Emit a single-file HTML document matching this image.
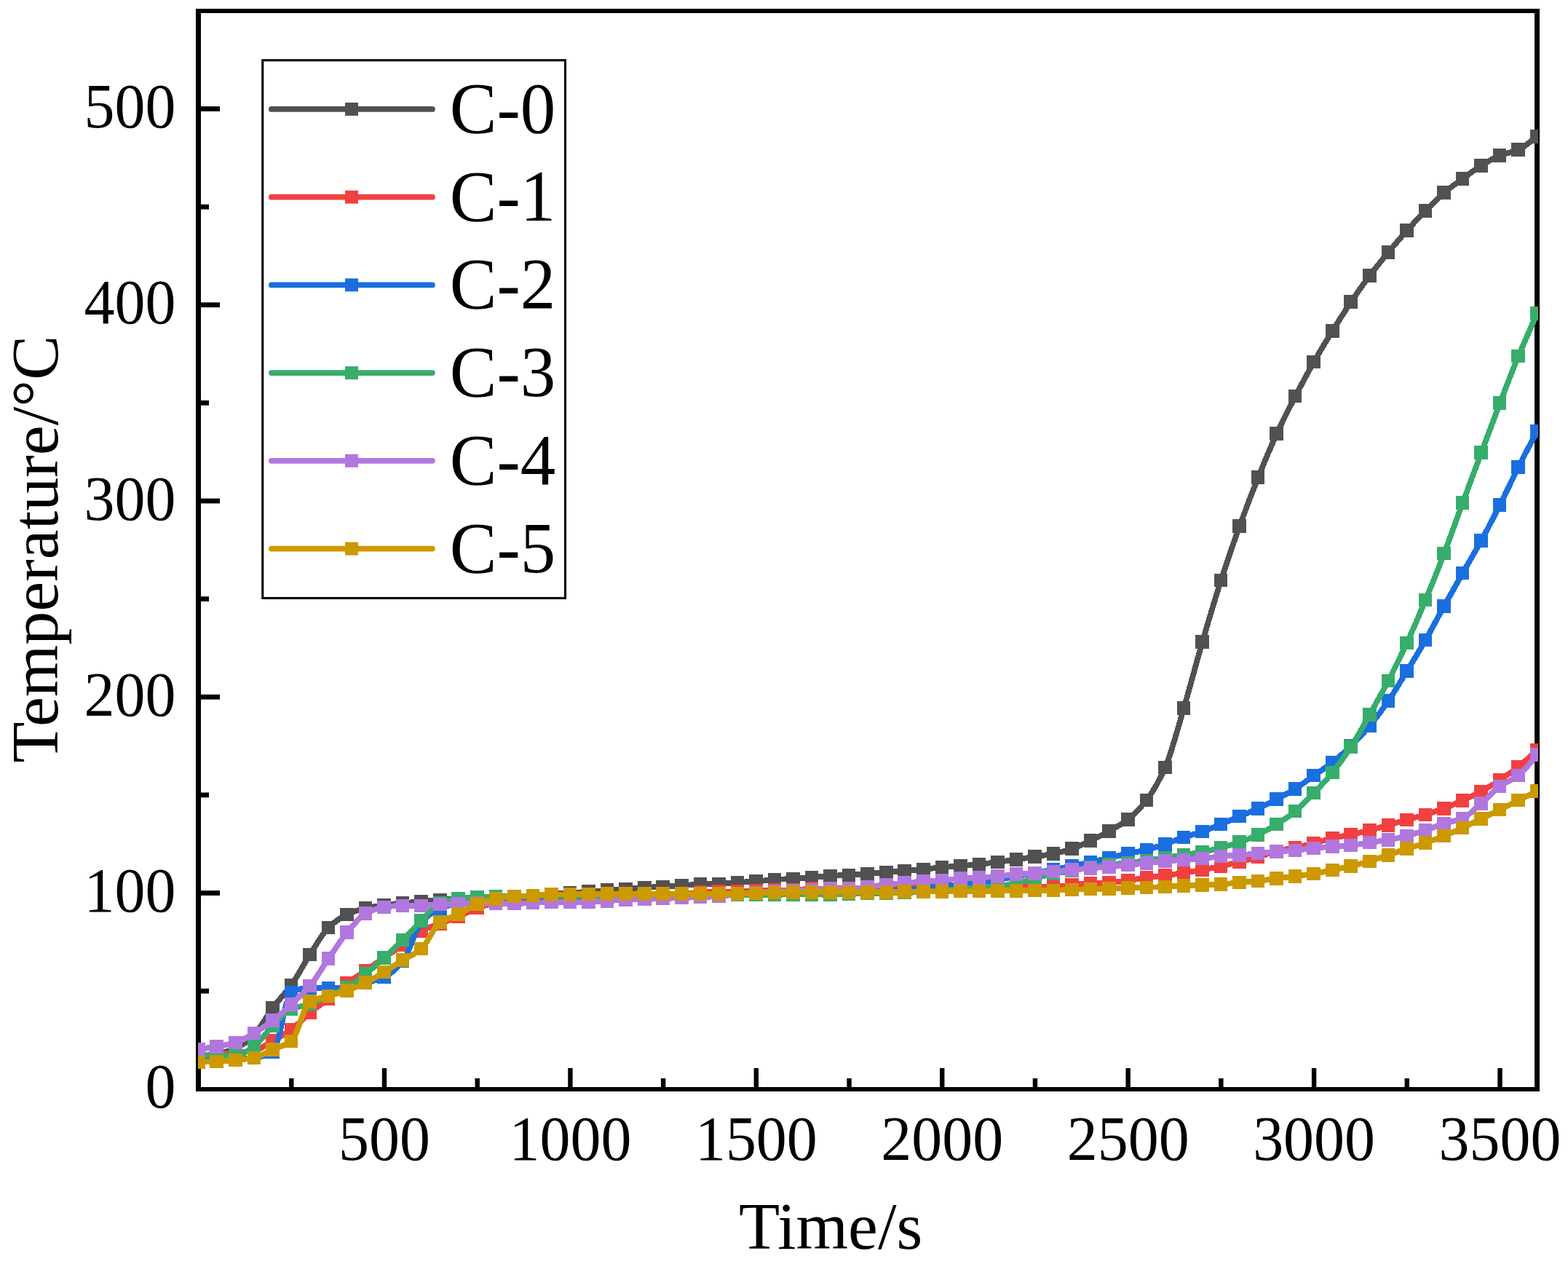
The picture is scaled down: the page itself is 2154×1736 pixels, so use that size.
<!DOCTYPE html><html><head><meta charset="utf-8"><title>Temperature vs Time</title><style>html,body{margin:0;padding:0;background:#fff;}svg{display:block;}text{font-family:'Liberation Serif','Times New Roman',serif;fill:#000;}</style></head><body>
<svg width="2154" height="1736" viewBox="0 0 2154 1736">
<rect x="0" y="0" width="2154" height="1736" fill="#fff"/>
<g fill="#000">
<rect x="269" y="12" width="7" height="1487"/>
<rect x="269" y="12" width="1846" height="6"/>
<rect x="2108" y="12" width="7" height="1487"/>
<rect x="269" y="1493" width="1846" height="6"/>
<rect x="276" y="1357.72" width="11" height="6.8"/>
<rect x="276" y="1223.10" width="26" height="6.8"/>
<rect x="276" y="1088.47" width="11" height="6.8"/>
<rect x="276" y="953.85" width="26" height="6.8"/>
<rect x="276" y="819.23" width="11" height="6.8"/>
<rect x="276" y="684.60" width="26" height="6.8"/>
<rect x="276" y="549.98" width="11" height="6.8"/>
<rect x="276" y="415.35" width="26" height="6.8"/>
<rect x="276" y="280.73" width="11" height="6.8"/>
<rect x="276" y="146.10" width="26" height="6.8"/>
<rect x="397.11" y="1481" width="6.4" height="12"/>
<rect x="524.81" y="1467" width="6.4" height="26"/>
<rect x="652.52" y="1481" width="6.4" height="12"/>
<rect x="780.23" y="1467" width="6.4" height="26"/>
<rect x="907.94" y="1481" width="6.4" height="12"/>
<rect x="1035.64" y="1467" width="6.4" height="26"/>
<rect x="1163.35" y="1481" width="6.4" height="12"/>
<rect x="1291.06" y="1467" width="6.4" height="26"/>
<rect x="1418.77" y="1481" width="6.4" height="12"/>
<rect x="1546.48" y="1467" width="6.4" height="26"/>
<rect x="1674.18" y="1481" width="6.4" height="12"/>
<rect x="1801.89" y="1467" width="6.4" height="26"/>
<rect x="1929.60" y="1481" width="6.4" height="12"/>
<rect x="2057.31" y="1467" width="6.4" height="26"/>
</g>
<text transform="translate(241.5,1521.35) scale(0.965,1)" font-size="87" text-anchor="end">0</text>
<text transform="translate(241.5,1252.10) scale(0.965,1)" font-size="87" text-anchor="end">100</text>
<text transform="translate(241.5,982.85) scale(0.965,1)" font-size="87" text-anchor="end">200</text>
<text transform="translate(241.5,713.60) scale(0.965,1)" font-size="87" text-anchor="end">300</text>
<text transform="translate(241.5,444.35) scale(0.965,1)" font-size="87" text-anchor="end">400</text>
<text transform="translate(241.5,175.10) scale(0.965,1)" font-size="87" text-anchor="end">500</text>
<text transform="translate(528.01,1593) scale(0.965,1)" font-size="87" text-anchor="middle">500</text>
<text transform="translate(783.43,1593) scale(0.965,1)" font-size="87" text-anchor="middle">1000</text>
<text transform="translate(1038.85,1593) scale(0.965,1)" font-size="87" text-anchor="middle">1500</text>
<text transform="translate(1294.26,1593) scale(0.965,1)" font-size="87" text-anchor="middle">2000</text>
<text transform="translate(1549.68,1593) scale(0.965,1)" font-size="87" text-anchor="middle">2500</text>
<text transform="translate(1805.09,1593) scale(0.965,1)" font-size="87" text-anchor="middle">3000</text>
<text transform="translate(2060.51,1593) scale(0.965,1)" font-size="87" text-anchor="middle">3500</text>
<text x="1015" y="1714.7" font-size="92">Time/s</text>
<text transform="translate(79.3,1047.8) rotate(-90)" font-size="92">Temperature/°C</text>
<defs><clipPath id="pc"><rect x="272" y="15" width="1841" height="1481"/></clipPath></defs>
<g clip-path="url(#pc)" shape-rendering="crispEdges">
<path d="M272.6,1450.0 C281.1,1449.0 289.6,1448.4 298.1,1447.0 C306.7,1445.6 315.2,1443.4 323.7,1440.0 C332.2,1436.6 340.7,1429.4 349.2,1421.0 C357.7,1412.6 366.3,1395.2 374.8,1383.9 C383.3,1372.6 391.8,1364.7 400.3,1352.8 C408.8,1340.9 417.3,1324.1 425.8,1311.0 C434.4,1297.9 442.9,1281.9 451.4,1273.8 C459.9,1265.7 468.4,1259.8 476.9,1255.9 C485.4,1252.0 494.0,1249.1 502.5,1247.2 C511.0,1245.3 519.5,1244.2 528.0,1243.1 C536.5,1242.0 545.0,1241.1 553.6,1240.3 C562.1,1239.5 570.6,1238.9 579.1,1238.2 C587.6,1237.5 596.1,1236.6 604.6,1236.0 C613.2,1235.4 621.7,1234.9 630.2,1234.5 C638.7,1234.1 647.2,1233.8 655.7,1233.5 C664.2,1233.2 672.8,1232.8 681.3,1232.5 C689.8,1232.2 698.3,1231.9 706.8,1231.5 C715.3,1231.1 723.8,1230.6 732.3,1230.0 C740.9,1229.4 749.4,1228.3 757.9,1227.8 C766.4,1227.3 774.9,1227.0 783.4,1226.5 C791.9,1226.0 800.5,1225.2 809.0,1224.6 C817.5,1224.0 826.0,1223.3 834.5,1222.7 C843.0,1222.1 851.5,1221.5 860.1,1220.9 C868.6,1220.3 877.1,1219.2 885.6,1218.8 C894.1,1218.4 902.6,1218.3 911.1,1217.9 C919.7,1217.5 928.2,1216.5 936.7,1216.0 C945.2,1215.5 953.7,1215.1 962.2,1214.7 C970.7,1214.3 979.2,1214.2 987.8,1213.8 C996.3,1213.4 1004.8,1212.4 1013.3,1211.9 C1021.8,1211.4 1030.3,1211.2 1038.8,1210.6 C1047.4,1210.0 1055.9,1208.5 1064.4,1208.0 C1072.9,1207.5 1081.4,1207.4 1089.9,1206.9 C1098.4,1206.4 1107.0,1205.8 1115.5,1205.1 C1124.0,1204.4 1132.5,1203.2 1141.0,1202.8 C1149.5,1202.4 1158.0,1202.3 1166.6,1201.9 C1175.1,1201.5 1183.6,1200.7 1192.1,1200.1 C1200.6,1199.5 1209.1,1198.6 1217.6,1198.0 C1226.1,1197.4 1234.7,1196.9 1243.2,1196.2 C1251.7,1195.5 1260.2,1194.7 1268.7,1193.9 C1277.2,1193.1 1285.7,1191.8 1294.3,1191.1 C1302.8,1190.4 1311.3,1190.0 1319.8,1189.3 C1328.3,1188.6 1336.8,1187.8 1345.3,1186.9 C1353.9,1186.0 1362.4,1185.1 1370.9,1184.0 C1379.4,1182.9 1387.9,1181.6 1396.4,1180.4 C1404.9,1179.2 1413.5,1177.9 1422.0,1176.6 C1430.5,1175.3 1439.0,1174.2 1447.5,1172.5 C1456.0,1170.8 1464.5,1168.3 1473.1,1165.4 C1481.6,1162.5 1490.1,1158.5 1498.6,1154.5 C1507.1,1150.5 1515.6,1146.1 1524.1,1141.3 C1532.6,1136.5 1541.2,1132.0 1549.7,1125.3 C1558.2,1118.6 1566.7,1109.9 1575.2,1098.8 C1583.7,1087.7 1592.2,1073.1 1600.8,1053.8 C1609.3,1034.5 1617.8,1000.9 1626.3,972.3 C1634.8,943.7 1643.3,910.6 1651.8,881.4 C1660.4,852.2 1668.9,823.2 1677.4,796.8 C1685.9,770.4 1694.4,746.0 1702.9,722.5 C1711.4,699.0 1720.0,676.5 1728.5,655.4 C1737.0,634.3 1745.5,614.0 1754.0,595.6 C1762.5,577.2 1771.0,560.5 1779.5,544.1 C1788.1,527.7 1796.6,511.7 1805.1,496.8 C1813.6,481.9 1822.1,467.9 1830.6,454.2 C1839.1,440.5 1847.7,427.0 1856.2,414.4 C1864.7,401.8 1873.2,389.7 1881.7,378.4 C1890.2,367.1 1898.7,356.8 1907.3,346.5 C1915.8,336.2 1924.3,326.1 1932.8,316.6 C1941.3,307.1 1949.8,298.2 1958.3,289.5 C1966.9,280.8 1975.4,271.6 1983.9,264.4 C1992.4,257.2 2000.9,251.8 2009.4,245.6 C2017.9,239.4 2026.4,232.5 2035.0,227.3 C2043.5,222.1 2052.0,216.8 2060.5,213.5 C2069.0,210.2 2077.5,209.3 2086.0,205.6 C2094.6,201.9 2103.1,193.5 2111.6,187.4" fill="none" stroke="#515151" stroke-width="7.8" stroke-linejoin="round" stroke-linecap="round"/>
<g fill="#515151"><rect x="262.90" y="1440.70" width="18.6" height="18.6"/><rect x="288.44" y="1437.70" width="18.6" height="18.6"/><rect x="313.98" y="1430.70" width="18.6" height="18.6"/><rect x="339.52" y="1411.70" width="18.6" height="18.6"/><rect x="365.07" y="1374.60" width="18.6" height="18.6"/><rect x="390.61" y="1343.50" width="18.6" height="18.6"/><rect x="416.15" y="1301.70" width="18.6" height="18.6"/><rect x="441.69" y="1264.50" width="18.6" height="18.6"/><rect x="467.23" y="1246.60" width="18.6" height="18.6"/><rect x="492.77" y="1237.90" width="18.6" height="18.6"/><rect x="518.31" y="1233.80" width="18.6" height="18.6"/><rect x="543.86" y="1231.00" width="18.6" height="18.6"/><rect x="569.40" y="1228.90" width="18.6" height="18.6"/><rect x="594.94" y="1226.70" width="18.6" height="18.6"/><rect x="620.48" y="1225.20" width="18.6" height="18.6"/><rect x="646.02" y="1224.20" width="18.6" height="18.6"/><rect x="671.56" y="1223.20" width="18.6" height="18.6"/><rect x="697.11" y="1222.20" width="18.6" height="18.6"/><rect x="722.65" y="1220.70" width="18.6" height="18.6"/><rect x="748.19" y="1218.50" width="18.6" height="18.6"/><rect x="773.73" y="1217.20" width="18.6" height="18.6"/><rect x="799.27" y="1215.30" width="18.6" height="18.6"/><rect x="824.81" y="1213.40" width="18.6" height="18.6"/><rect x="850.35" y="1211.60" width="18.6" height="18.6"/><rect x="875.90" y="1209.50" width="18.6" height="18.6"/><rect x="901.44" y="1208.60" width="18.6" height="18.6"/><rect x="926.98" y="1206.70" width="18.6" height="18.6"/><rect x="952.52" y="1205.40" width="18.6" height="18.6"/><rect x="978.06" y="1204.50" width="18.6" height="18.6"/><rect x="1003.60" y="1202.60" width="18.6" height="18.6"/><rect x="1029.14" y="1201.30" width="18.6" height="18.6"/><rect x="1054.69" y="1198.70" width="18.6" height="18.6"/><rect x="1080.23" y="1197.60" width="18.6" height="18.6"/><rect x="1105.77" y="1195.80" width="18.6" height="18.6"/><rect x="1131.31" y="1193.50" width="18.6" height="18.6"/><rect x="1156.85" y="1192.60" width="18.6" height="18.6"/><rect x="1182.39" y="1190.80" width="18.6" height="18.6"/><rect x="1207.94" y="1188.70" width="18.6" height="18.6"/><rect x="1233.48" y="1186.90" width="18.6" height="18.6"/><rect x="1259.02" y="1184.60" width="18.6" height="18.6"/><rect x="1284.56" y="1181.80" width="18.6" height="18.6"/><rect x="1310.10" y="1180.00" width="18.6" height="18.6"/><rect x="1335.64" y="1177.60" width="18.6" height="18.6"/><rect x="1361.18" y="1174.70" width="18.6" height="18.6"/><rect x="1386.73" y="1171.10" width="18.6" height="18.6"/><rect x="1412.27" y="1167.30" width="18.6" height="18.6"/><rect x="1437.81" y="1163.20" width="18.6" height="18.6"/><rect x="1463.35" y="1156.10" width="18.6" height="18.6"/><rect x="1488.89" y="1145.20" width="18.6" height="18.6"/><rect x="1514.43" y="1132.00" width="18.6" height="18.6"/><rect x="1539.98" y="1116.00" width="18.6" height="18.6"/><rect x="1565.52" y="1089.50" width="18.6" height="18.6"/><rect x="1591.06" y="1044.50" width="18.6" height="18.6"/><rect x="1616.60" y="963.00" width="18.6" height="18.6"/><rect x="1642.14" y="872.10" width="18.6" height="18.6"/><rect x="1667.68" y="787.50" width="18.6" height="18.6"/><rect x="1693.22" y="713.20" width="18.6" height="18.6"/><rect x="1718.77" y="646.10" width="18.6" height="18.6"/><rect x="1744.31" y="586.30" width="18.6" height="18.6"/><rect x="1769.85" y="534.80" width="18.6" height="18.6"/><rect x="1795.39" y="487.50" width="18.6" height="18.6"/><rect x="1820.93" y="444.90" width="18.6" height="18.6"/><rect x="1846.47" y="405.10" width="18.6" height="18.6"/><rect x="1872.01" y="369.10" width="18.6" height="18.6"/><rect x="1897.56" y="337.20" width="18.6" height="18.6"/><rect x="1923.10" y="307.30" width="18.6" height="18.6"/><rect x="1948.64" y="280.20" width="18.6" height="18.6"/><rect x="1974.18" y="255.10" width="18.6" height="18.6"/><rect x="1999.72" y="236.30" width="18.6" height="18.6"/><rect x="2025.26" y="218.00" width="18.6" height="18.6"/><rect x="2050.81" y="204.20" width="18.6" height="18.6"/><rect x="2076.35" y="196.30" width="18.6" height="18.6"/><rect x="2101.89" y="178.10" width="18.6" height="18.6"/></g>
<path d="M272.6,1449.0 C281.1,1448.7 289.6,1448.4 298.1,1448.0 C306.7,1447.6 315.2,1446.8 323.7,1446.0 C332.2,1445.2 340.7,1444.6 349.2,1443.0 C357.7,1441.4 366.3,1434.3 374.8,1429.5 C383.3,1424.7 391.8,1420.2 400.3,1414.0 C408.8,1407.8 417.3,1397.7 425.8,1390.7 C434.4,1383.7 442.9,1378.4 451.4,1371.7 C459.9,1365.0 468.4,1357.0 476.9,1350.6 C485.4,1344.2 494.0,1338.9 502.5,1333.0 C511.0,1327.1 519.5,1320.8 528.0,1315.0 C536.5,1309.2 545.0,1304.1 553.6,1298.0 C562.1,1291.9 570.6,1282.5 579.1,1278.2 C587.6,1273.9 596.1,1272.0 604.6,1268.7 C613.2,1265.4 621.7,1262.2 630.2,1258.6 C638.7,1255.0 647.2,1250.0 655.7,1247.1 C664.2,1244.2 672.8,1241.7 681.3,1240.0 C689.8,1238.3 698.3,1237.1 706.8,1236.0 C715.3,1234.9 723.8,1233.8 732.3,1233.0 C740.9,1232.2 749.4,1231.4 757.9,1231.0 C766.4,1230.6 774.9,1230.4 783.4,1230.0 C791.9,1229.6 800.5,1228.6 809.0,1228.5 C817.5,1228.4 826.0,1228.4 834.5,1228.4 C843.0,1228.3 851.5,1228.3 860.1,1228.2 C868.6,1228.2 877.1,1228.2 885.6,1228.1 C894.1,1228.1 902.6,1228.1 911.1,1228.0 C919.7,1227.9 928.2,1227.9 936.7,1227.7 C945.2,1227.5 953.7,1225.9 962.2,1225.5 C970.7,1225.1 979.2,1224.6 987.8,1224.6 C996.3,1224.6 1004.8,1224.6 1013.3,1224.6 C1021.8,1224.6 1030.3,1223.9 1038.8,1223.6 C1047.4,1223.3 1055.9,1222.6 1064.4,1222.5 C1072.9,1222.4 1081.4,1222.5 1089.9,1222.4 C1098.4,1222.3 1107.0,1220.8 1115.5,1220.7 C1124.0,1220.6 1132.5,1220.6 1141.0,1220.5 C1149.5,1220.4 1158.0,1220.0 1166.6,1220.0 C1175.1,1220.0 1183.6,1220.0 1192.1,1220.0 C1200.6,1220.0 1209.1,1219.3 1217.6,1219.0 C1226.1,1218.7 1234.7,1218.3 1243.2,1218.0 C1251.7,1217.7 1260.2,1217.0 1268.7,1217.0 C1277.2,1217.0 1285.7,1217.0 1294.3,1217.0 C1302.8,1217.0 1311.3,1217.0 1319.8,1217.0 C1328.3,1217.0 1336.8,1217.0 1345.3,1217.0 C1353.9,1217.0 1362.4,1217.0 1370.9,1217.0 C1379.4,1217.0 1387.9,1216.0 1396.4,1216.0 C1404.9,1216.0 1413.5,1216.7 1422.0,1217.0 C1430.5,1217.3 1439.0,1218.0 1447.5,1218.0 C1456.0,1218.0 1464.5,1216.0 1473.1,1215.2 C1481.6,1214.4 1490.1,1213.6 1498.6,1213.2 C1507.1,1212.8 1515.6,1212.7 1524.1,1212.2 C1532.6,1211.7 1541.2,1210.4 1549.7,1209.3 C1558.2,1208.2 1566.7,1206.3 1575.2,1205.2 C1583.7,1204.1 1592.2,1203.4 1600.8,1202.3 C1609.3,1201.2 1617.8,1200.1 1626.3,1198.8 C1634.8,1197.5 1643.3,1196.1 1651.8,1194.6 C1660.4,1193.1 1668.9,1191.4 1677.4,1189.6 C1685.9,1187.8 1694.4,1185.9 1702.9,1183.8 C1711.4,1181.7 1720.0,1179.6 1728.5,1177.1 C1737.0,1174.6 1745.5,1170.8 1754.0,1168.8 C1762.5,1166.8 1771.0,1165.9 1779.5,1164.1 C1788.1,1162.3 1796.6,1160.3 1805.1,1158.1 C1813.6,1155.9 1822.1,1153.0 1830.6,1151.1 C1839.1,1149.2 1847.7,1148.0 1856.2,1146.2 C1864.7,1144.4 1873.2,1142.4 1881.7,1140.2 C1890.2,1138.0 1898.7,1135.6 1907.3,1133.2 C1915.8,1130.8 1924.3,1128.2 1932.8,1125.8 C1941.3,1123.4 1949.8,1121.4 1958.3,1118.8 C1966.9,1116.2 1975.4,1113.4 1983.9,1110.2 C1992.4,1107.0 2000.9,1103.2 2009.4,1099.3 C2017.9,1095.4 2026.4,1091.5 2035.0,1086.9 C2043.5,1082.3 2052.0,1076.8 2060.5,1071.2 C2069.0,1065.6 2077.5,1059.9 2086.0,1053.1 C2094.6,1046.3 2103.1,1037.8 2111.6,1030.1" fill="none" stroke="#F14040" stroke-width="7.8" stroke-linejoin="round" stroke-linecap="round"/>
<g fill="#F14040"><rect x="262.90" y="1439.70" width="18.6" height="18.6"/><rect x="288.44" y="1438.70" width="18.6" height="18.6"/><rect x="313.98" y="1436.70" width="18.6" height="18.6"/><rect x="339.52" y="1433.70" width="18.6" height="18.6"/><rect x="365.07" y="1420.20" width="18.6" height="18.6"/><rect x="390.61" y="1404.70" width="18.6" height="18.6"/><rect x="416.15" y="1381.40" width="18.6" height="18.6"/><rect x="441.69" y="1362.40" width="18.6" height="18.6"/><rect x="467.23" y="1341.30" width="18.6" height="18.6"/><rect x="492.77" y="1323.70" width="18.6" height="18.6"/><rect x="518.31" y="1305.70" width="18.6" height="18.6"/><rect x="543.86" y="1288.70" width="18.6" height="18.6"/><rect x="569.40" y="1268.90" width="18.6" height="18.6"/><rect x="594.94" y="1259.40" width="18.6" height="18.6"/><rect x="620.48" y="1249.30" width="18.6" height="18.6"/><rect x="646.02" y="1237.80" width="18.6" height="18.6"/><rect x="671.56" y="1230.70" width="18.6" height="18.6"/><rect x="697.11" y="1226.70" width="18.6" height="18.6"/><rect x="722.65" y="1223.70" width="18.6" height="18.6"/><rect x="748.19" y="1221.70" width="18.6" height="18.6"/><rect x="773.73" y="1220.70" width="18.6" height="18.6"/><rect x="799.27" y="1219.20" width="18.6" height="18.6"/><rect x="824.81" y="1219.08" width="18.6" height="18.6"/><rect x="850.35" y="1218.95" width="18.6" height="18.6"/><rect x="875.90" y="1218.82" width="18.6" height="18.6"/><rect x="901.44" y="1218.70" width="18.6" height="18.6"/><rect x="926.98" y="1218.40" width="18.6" height="18.6"/><rect x="952.52" y="1216.20" width="18.6" height="18.6"/><rect x="978.06" y="1215.30" width="18.6" height="18.6"/><rect x="1003.60" y="1215.30" width="18.6" height="18.6"/><rect x="1029.14" y="1214.30" width="18.6" height="18.6"/><rect x="1054.69" y="1213.20" width="18.6" height="18.6"/><rect x="1080.23" y="1213.10" width="18.6" height="18.6"/><rect x="1105.77" y="1211.40" width="18.6" height="18.6"/><rect x="1131.31" y="1211.20" width="18.6" height="18.6"/><rect x="1156.85" y="1210.70" width="18.6" height="18.6"/><rect x="1182.39" y="1210.70" width="18.6" height="18.6"/><rect x="1207.94" y="1209.70" width="18.6" height="18.6"/><rect x="1233.48" y="1208.70" width="18.6" height="18.6"/><rect x="1259.02" y="1207.70" width="18.6" height="18.6"/><rect x="1284.56" y="1207.70" width="18.6" height="18.6"/><rect x="1310.10" y="1207.70" width="18.6" height="18.6"/><rect x="1335.64" y="1207.70" width="18.6" height="18.6"/><rect x="1361.18" y="1207.70" width="18.6" height="18.6"/><rect x="1386.73" y="1206.70" width="18.6" height="18.6"/><rect x="1412.27" y="1207.70" width="18.6" height="18.6"/><rect x="1437.81" y="1208.70" width="18.6" height="18.6"/><rect x="1463.35" y="1205.90" width="18.6" height="18.6"/><rect x="1488.89" y="1203.90" width="18.6" height="18.6"/><rect x="1514.43" y="1202.90" width="18.6" height="18.6"/><rect x="1539.98" y="1200.00" width="18.6" height="18.6"/><rect x="1565.52" y="1195.90" width="18.6" height="18.6"/><rect x="1591.06" y="1193.00" width="18.6" height="18.6"/><rect x="1616.60" y="1189.50" width="18.6" height="18.6"/><rect x="1642.14" y="1185.30" width="18.6" height="18.6"/><rect x="1667.68" y="1180.30" width="18.6" height="18.6"/><rect x="1693.22" y="1174.50" width="18.6" height="18.6"/><rect x="1718.77" y="1167.80" width="18.6" height="18.6"/><rect x="1744.31" y="1159.50" width="18.6" height="18.6"/><rect x="1769.85" y="1154.80" width="18.6" height="18.6"/><rect x="1795.39" y="1148.80" width="18.6" height="18.6"/><rect x="1820.93" y="1141.80" width="18.6" height="18.6"/><rect x="1846.47" y="1136.90" width="18.6" height="18.6"/><rect x="1872.01" y="1130.90" width="18.6" height="18.6"/><rect x="1897.56" y="1123.90" width="18.6" height="18.6"/><rect x="1923.10" y="1116.50" width="18.6" height="18.6"/><rect x="1948.64" y="1109.50" width="18.6" height="18.6"/><rect x="1974.18" y="1100.90" width="18.6" height="18.6"/><rect x="1999.72" y="1090.00" width="18.6" height="18.6"/><rect x="2025.26" y="1077.60" width="18.6" height="18.6"/><rect x="2050.81" y="1061.90" width="18.6" height="18.6"/><rect x="2076.35" y="1043.80" width="18.6" height="18.6"/><rect x="2101.89" y="1020.80" width="18.6" height="18.6"/></g>
<path d="M272.6,1458.0 C281.1,1457.4 289.6,1456.7 298.1,1456.2 C306.7,1455.7 315.2,1455.5 323.7,1455.0 C332.2,1454.5 340.7,1454.1 349.2,1453.0 C357.7,1451.9 366.3,1449.9 374.8,1445.0 C383.3,1440.1 391.8,1367.0 400.3,1363.0 C408.8,1359.0 417.3,1356.6 425.8,1356.6 C434.4,1356.6 442.9,1357.3 451.4,1357.3 C459.9,1357.3 468.4,1356.7 476.9,1356.0 C485.4,1355.3 494.0,1352.3 502.5,1350.0 C511.0,1347.7 519.5,1345.8 528.0,1341.8 C536.5,1337.8 545.0,1330.4 553.6,1320.0 C562.1,1309.6 570.6,1275.0 579.1,1266.0 C587.6,1257.0 596.1,1251.7 604.6,1248.0 C613.2,1244.3 621.7,1241.8 630.2,1240.0 C638.7,1238.2 647.2,1236.9 655.7,1236.0 C664.2,1235.1 672.8,1234.4 681.3,1234.0 C689.8,1233.6 698.3,1233.3 706.8,1233.0 C715.3,1232.7 723.8,1232.3 732.3,1232.0 C740.9,1231.7 749.4,1231.1 757.9,1231.0 C766.4,1230.9 774.9,1230.9 783.4,1230.8 C791.9,1230.8 800.5,1230.7 809.0,1230.6 C817.5,1230.6 826.0,1230.5 834.5,1230.5 C843.0,1230.4 851.5,1230.3 860.1,1230.3 C868.6,1230.2 877.1,1230.1 885.6,1230.1 C894.1,1230.0 902.6,1230.0 911.1,1229.9 C919.7,1229.9 928.2,1229.8 936.7,1229.7 C945.2,1229.7 953.7,1229.6 962.2,1229.5 C970.7,1229.5 979.2,1229.4 987.8,1229.4 C996.3,1229.3 1004.8,1229.2 1013.3,1229.2 C1021.8,1229.1 1030.3,1229.1 1038.8,1229.0 C1047.4,1228.9 1055.9,1228.6 1064.4,1228.4 C1072.9,1228.2 1081.4,1228.0 1089.9,1227.8 C1098.4,1227.6 1107.0,1227.4 1115.5,1227.2 C1124.0,1227.0 1132.5,1226.8 1141.0,1226.6 C1149.5,1226.4 1158.0,1226.3 1166.6,1226.0 C1175.1,1225.7 1183.6,1224.9 1192.1,1224.5 C1200.6,1224.1 1209.1,1223.8 1217.6,1223.5 C1226.1,1223.2 1234.7,1223.0 1243.2,1222.5 C1251.7,1222.0 1260.2,1220.9 1268.7,1220.0 C1277.2,1219.1 1285.7,1217.9 1294.3,1217.0 C1302.8,1216.1 1311.3,1215.4 1319.8,1214.5 C1328.3,1213.6 1336.8,1212.5 1345.3,1211.5 C1353.9,1210.5 1362.4,1209.8 1370.9,1208.5 C1379.4,1207.2 1387.9,1205.1 1396.4,1203.5 C1404.9,1201.9 1413.5,1200.5 1422.0,1199.0 C1430.5,1197.5 1439.0,1195.9 1447.5,1194.3 C1456.0,1192.7 1464.5,1190.9 1473.1,1189.2 C1481.6,1187.5 1490.1,1186.0 1498.6,1184.2 C1507.1,1182.4 1515.6,1180.2 1524.1,1178.2 C1532.6,1176.2 1541.2,1174.0 1549.7,1172.2 C1558.2,1170.4 1566.7,1169.3 1575.2,1167.2 C1583.7,1165.1 1592.2,1162.1 1600.8,1159.2 C1609.3,1156.3 1617.8,1152.8 1626.3,1150.0 C1634.8,1147.2 1643.3,1145.1 1651.8,1142.1 C1660.4,1139.1 1668.9,1135.5 1677.4,1132.0 C1685.9,1128.5 1694.4,1124.7 1702.9,1121.1 C1711.4,1117.5 1720.0,1114.3 1728.5,1110.4 C1737.0,1106.5 1745.5,1102.0 1754.0,1097.5 C1762.5,1093.0 1771.0,1088.5 1779.5,1083.2 C1788.1,1077.9 1796.6,1071.0 1805.1,1065.0 C1813.6,1059.0 1822.1,1053.8 1830.6,1047.1 C1839.1,1040.4 1847.7,1032.3 1856.2,1024.0 C1864.7,1015.7 1873.2,1006.9 1881.7,996.8 C1890.2,986.7 1898.7,975.0 1907.3,962.6 C1915.8,950.2 1924.3,935.5 1932.8,921.6 C1941.3,907.7 1949.8,893.9 1958.3,879.0 C1966.9,864.1 1975.4,847.6 1983.9,832.3 C1992.4,817.0 2000.9,802.0 2009.4,787.0 C2017.9,772.0 2026.4,757.8 2035.0,742.2 C2043.5,726.6 2052.0,710.3 2060.5,693.5 C2069.0,676.7 2077.5,658.1 2086.0,641.2 C2094.6,624.3 2103.1,608.4 2111.6,592.0" fill="none" stroke="#1A6FDF" stroke-width="7.8" stroke-linejoin="round" stroke-linecap="round"/>
<g fill="#1A6FDF"><rect x="262.90" y="1448.70" width="18.6" height="18.6"/><rect x="288.44" y="1446.90" width="18.6" height="18.6"/><rect x="313.98" y="1445.70" width="18.6" height="18.6"/><rect x="339.52" y="1443.70" width="18.6" height="18.6"/><rect x="365.07" y="1435.70" width="18.6" height="18.6"/><rect x="390.61" y="1353.70" width="18.6" height="18.6"/><rect x="416.15" y="1347.30" width="18.6" height="18.6"/><rect x="441.69" y="1348.00" width="18.6" height="18.6"/><rect x="467.23" y="1346.70" width="18.6" height="18.6"/><rect x="492.77" y="1340.70" width="18.6" height="18.6"/><rect x="518.31" y="1332.50" width="18.6" height="18.6"/><rect x="543.86" y="1310.70" width="18.6" height="18.6"/><rect x="569.40" y="1256.70" width="18.6" height="18.6"/><rect x="594.94" y="1238.70" width="18.6" height="18.6"/><rect x="620.48" y="1230.70" width="18.6" height="18.6"/><rect x="646.02" y="1226.70" width="18.6" height="18.6"/><rect x="671.56" y="1224.70" width="18.6" height="18.6"/><rect x="697.11" y="1223.70" width="18.6" height="18.6"/><rect x="722.65" y="1222.70" width="18.6" height="18.6"/><rect x="748.19" y="1221.70" width="18.6" height="18.6"/><rect x="773.73" y="1221.52" width="18.6" height="18.6"/><rect x="799.27" y="1221.34" width="18.6" height="18.6"/><rect x="824.81" y="1221.15" width="18.6" height="18.6"/><rect x="850.35" y="1220.97" width="18.6" height="18.6"/><rect x="875.90" y="1220.79" width="18.6" height="18.6"/><rect x="901.44" y="1220.61" width="18.6" height="18.6"/><rect x="926.98" y="1220.43" width="18.6" height="18.6"/><rect x="952.52" y="1220.25" width="18.6" height="18.6"/><rect x="978.06" y="1220.06" width="18.6" height="18.6"/><rect x="1003.60" y="1219.88" width="18.6" height="18.6"/><rect x="1029.14" y="1219.70" width="18.6" height="18.6"/><rect x="1054.69" y="1219.10" width="18.6" height="18.6"/><rect x="1080.23" y="1218.50" width="18.6" height="18.6"/><rect x="1105.77" y="1217.90" width="18.6" height="18.6"/><rect x="1131.31" y="1217.30" width="18.6" height="18.6"/><rect x="1156.85" y="1216.70" width="18.6" height="18.6"/><rect x="1182.39" y="1215.20" width="18.6" height="18.6"/><rect x="1207.94" y="1214.20" width="18.6" height="18.6"/><rect x="1233.48" y="1213.20" width="18.6" height="18.6"/><rect x="1259.02" y="1210.70" width="18.6" height="18.6"/><rect x="1284.56" y="1207.70" width="18.6" height="18.6"/><rect x="1310.10" y="1205.20" width="18.6" height="18.6"/><rect x="1335.64" y="1202.20" width="18.6" height="18.6"/><rect x="1361.18" y="1199.20" width="18.6" height="18.6"/><rect x="1386.73" y="1194.20" width="18.6" height="18.6"/><rect x="1412.27" y="1189.70" width="18.6" height="18.6"/><rect x="1437.81" y="1185.00" width="18.6" height="18.6"/><rect x="1463.35" y="1179.90" width="18.6" height="18.6"/><rect x="1488.89" y="1174.90" width="18.6" height="18.6"/><rect x="1514.43" y="1168.90" width="18.6" height="18.6"/><rect x="1539.98" y="1162.90" width="18.6" height="18.6"/><rect x="1565.52" y="1157.90" width="18.6" height="18.6"/><rect x="1591.06" y="1149.90" width="18.6" height="18.6"/><rect x="1616.60" y="1140.70" width="18.6" height="18.6"/><rect x="1642.14" y="1132.80" width="18.6" height="18.6"/><rect x="1667.68" y="1122.70" width="18.6" height="18.6"/><rect x="1693.22" y="1111.80" width="18.6" height="18.6"/><rect x="1718.77" y="1101.10" width="18.6" height="18.6"/><rect x="1744.31" y="1088.20" width="18.6" height="18.6"/><rect x="1769.85" y="1073.90" width="18.6" height="18.6"/><rect x="1795.39" y="1055.70" width="18.6" height="18.6"/><rect x="1820.93" y="1037.80" width="18.6" height="18.6"/><rect x="1846.47" y="1014.70" width="18.6" height="18.6"/><rect x="1872.01" y="987.50" width="18.6" height="18.6"/><rect x="1897.56" y="953.30" width="18.6" height="18.6"/><rect x="1923.10" y="912.30" width="18.6" height="18.6"/><rect x="1948.64" y="869.70" width="18.6" height="18.6"/><rect x="1974.18" y="823.00" width="18.6" height="18.6"/><rect x="1999.72" y="777.70" width="18.6" height="18.6"/><rect x="2025.26" y="732.90" width="18.6" height="18.6"/><rect x="2050.81" y="684.20" width="18.6" height="18.6"/><rect x="2076.35" y="631.90" width="18.6" height="18.6"/><rect x="2101.89" y="582.70" width="18.6" height="18.6"/></g>
<path d="M272.6,1449.0 C281.1,1449.0 289.6,1449.0 298.1,1449.0 C306.7,1449.0 315.2,1450.0 323.7,1450.0 C332.2,1450.0 340.7,1443.0 349.2,1437.0 C357.7,1431.0 366.3,1416.9 374.8,1408.5 C383.3,1400.1 391.8,1389.6 400.3,1386.0 C408.8,1382.4 417.3,1381.9 425.8,1379.0 C434.4,1376.1 442.9,1371.8 451.4,1368.0 C459.9,1364.2 468.4,1360.8 476.9,1356.0 C485.4,1351.2 494.0,1344.3 502.5,1337.6 C511.0,1330.9 519.5,1322.9 528.0,1315.2 C536.5,1307.5 545.0,1299.6 553.6,1291.1 C562.1,1282.6 570.6,1272.7 579.1,1264.2 C587.6,1255.7 596.1,1243.1 604.6,1240.0 C613.2,1236.9 621.7,1235.3 630.2,1234.3 C638.7,1233.3 647.2,1232.5 655.7,1232.2 C664.2,1231.9 672.8,1231.7 681.3,1231.5 C689.8,1231.3 698.3,1231.2 706.8,1231.0 C715.3,1230.8 723.8,1230.7 732.3,1230.5 C740.9,1230.3 749.4,1230.0 757.9,1230.0 C766.4,1230.0 774.9,1230.0 783.4,1229.9 C791.9,1229.9 800.5,1229.9 809.0,1229.9 C817.5,1229.9 826.0,1229.8 834.5,1229.8 C843.0,1229.8 851.5,1229.8 860.1,1229.8 C868.6,1229.8 877.1,1229.7 885.6,1229.7 C894.1,1229.7 902.6,1229.7 911.1,1229.7 C919.7,1229.7 928.2,1229.6 936.7,1229.6 C945.2,1229.6 953.7,1229.6 962.2,1229.6 C970.7,1229.5 979.2,1229.5 987.8,1229.5 C996.3,1229.5 1004.8,1228.7 1013.3,1228.7 C1021.8,1228.7 1030.3,1228.8 1038.8,1228.8 C1047.4,1228.8 1055.9,1228.8 1064.4,1228.8 C1072.9,1228.8 1081.4,1228.3 1089.9,1228.3 C1098.4,1228.3 1107.0,1228.4 1115.5,1228.5 C1124.0,1228.6 1132.5,1228.7 1141.0,1228.7 C1149.5,1228.7 1158.0,1228.3 1166.6,1228.0 C1175.1,1227.7 1183.6,1227.2 1192.1,1227.0 C1200.6,1226.8 1209.1,1226.6 1217.6,1226.5 C1226.1,1226.4 1234.7,1226.3 1243.2,1226.1 C1251.7,1225.9 1260.2,1225.1 1268.7,1224.6 C1277.2,1224.1 1285.7,1223.6 1294.3,1223.0 C1302.8,1222.4 1311.3,1221.7 1319.8,1221.0 C1328.3,1220.3 1336.8,1219.7 1345.3,1219.0 C1353.9,1218.3 1362.4,1217.9 1370.9,1217.0 C1379.4,1216.1 1387.9,1214.7 1396.4,1213.0 C1404.9,1211.3 1413.5,1208.2 1422.0,1206.0 C1430.5,1203.8 1439.0,1201.6 1447.5,1200.0 C1456.0,1198.4 1464.5,1197.5 1473.1,1196.0 C1481.6,1194.5 1490.1,1192.3 1498.6,1191.0 C1507.1,1189.7 1515.6,1188.6 1524.1,1187.6 C1532.6,1186.6 1541.2,1186.0 1549.7,1185.1 C1558.2,1184.2 1566.7,1183.0 1575.2,1181.8 C1583.7,1180.6 1592.2,1179.2 1600.8,1177.9 C1609.3,1176.6 1617.8,1175.5 1626.3,1174.2 C1634.8,1172.9 1643.3,1171.7 1651.8,1170.1 C1660.4,1168.5 1668.9,1166.4 1677.4,1164.2 C1685.9,1162.0 1694.4,1159.6 1702.9,1156.7 C1711.4,1153.8 1720.0,1150.2 1728.5,1146.2 C1737.0,1142.2 1745.5,1137.3 1754.0,1132.0 C1762.5,1126.7 1771.0,1121.0 1779.5,1114.0 C1788.1,1107.0 1796.6,1097.8 1805.1,1089.0 C1813.6,1080.2 1822.1,1071.3 1830.6,1060.8 C1839.1,1050.3 1847.7,1038.4 1856.2,1025.3 C1864.7,1012.2 1873.2,996.4 1881.7,981.3 C1890.2,966.2 1898.7,951.3 1907.3,934.9 C1915.8,918.5 1924.3,901.2 1932.8,882.8 C1941.3,864.4 1949.8,844.3 1958.3,823.9 C1966.9,803.5 1975.4,782.2 1983.9,760.0 C1992.4,737.8 2000.9,713.5 2009.4,690.4 C2017.9,667.3 2026.4,644.3 2035.0,621.5 C2043.5,598.7 2052.0,575.7 2060.5,553.6 C2069.0,531.5 2077.5,509.4 2086.0,488.9 C2094.6,468.4 2103.1,449.8 2111.6,430.2" fill="none" stroke="#37AD6B" stroke-width="7.8" stroke-linejoin="round" stroke-linecap="round"/>
<g fill="#37AD6B"><rect x="262.90" y="1439.70" width="18.6" height="18.6"/><rect x="288.44" y="1439.70" width="18.6" height="18.6"/><rect x="313.98" y="1440.70" width="18.6" height="18.6"/><rect x="339.52" y="1427.70" width="18.6" height="18.6"/><rect x="365.07" y="1399.20" width="18.6" height="18.6"/><rect x="390.61" y="1376.70" width="18.6" height="18.6"/><rect x="416.15" y="1369.70" width="18.6" height="18.6"/><rect x="441.69" y="1358.70" width="18.6" height="18.6"/><rect x="467.23" y="1346.70" width="18.6" height="18.6"/><rect x="492.77" y="1328.30" width="18.6" height="18.6"/><rect x="518.31" y="1305.90" width="18.6" height="18.6"/><rect x="543.86" y="1281.80" width="18.6" height="18.6"/><rect x="569.40" y="1254.90" width="18.6" height="18.6"/><rect x="594.94" y="1230.70" width="18.6" height="18.6"/><rect x="620.48" y="1225.00" width="18.6" height="18.6"/><rect x="646.02" y="1222.90" width="18.6" height="18.6"/><rect x="671.56" y="1222.20" width="18.6" height="18.6"/><rect x="697.11" y="1221.70" width="18.6" height="18.6"/><rect x="722.65" y="1221.20" width="18.6" height="18.6"/><rect x="748.19" y="1220.70" width="18.6" height="18.6"/><rect x="773.73" y="1220.64" width="18.6" height="18.6"/><rect x="799.27" y="1220.59" width="18.6" height="18.6"/><rect x="824.81" y="1220.53" width="18.6" height="18.6"/><rect x="850.35" y="1220.48" width="18.6" height="18.6"/><rect x="875.90" y="1220.42" width="18.6" height="18.6"/><rect x="901.44" y="1220.37" width="18.6" height="18.6"/><rect x="926.98" y="1220.31" width="18.6" height="18.6"/><rect x="952.52" y="1220.26" width="18.6" height="18.6"/><rect x="978.06" y="1220.20" width="18.6" height="18.6"/><rect x="1003.60" y="1219.40" width="18.6" height="18.6"/><rect x="1029.14" y="1219.50" width="18.6" height="18.6"/><rect x="1054.69" y="1219.50" width="18.6" height="18.6"/><rect x="1080.23" y="1219.00" width="18.6" height="18.6"/><rect x="1105.77" y="1219.20" width="18.6" height="18.6"/><rect x="1131.31" y="1219.40" width="18.6" height="18.6"/><rect x="1156.85" y="1218.70" width="18.6" height="18.6"/><rect x="1182.39" y="1217.70" width="18.6" height="18.6"/><rect x="1207.94" y="1217.20" width="18.6" height="18.6"/><rect x="1233.48" y="1216.80" width="18.6" height="18.6"/><rect x="1259.02" y="1215.30" width="18.6" height="18.6"/><rect x="1284.56" y="1213.70" width="18.6" height="18.6"/><rect x="1310.10" y="1211.70" width="18.6" height="18.6"/><rect x="1335.64" y="1209.70" width="18.6" height="18.6"/><rect x="1361.18" y="1207.70" width="18.6" height="18.6"/><rect x="1386.73" y="1203.70" width="18.6" height="18.6"/><rect x="1412.27" y="1196.70" width="18.6" height="18.6"/><rect x="1437.81" y="1190.70" width="18.6" height="18.6"/><rect x="1463.35" y="1186.70" width="18.6" height="18.6"/><rect x="1488.89" y="1181.70" width="18.6" height="18.6"/><rect x="1514.43" y="1178.30" width="18.6" height="18.6"/><rect x="1539.98" y="1175.80" width="18.6" height="18.6"/><rect x="1565.52" y="1172.50" width="18.6" height="18.6"/><rect x="1591.06" y="1168.60" width="18.6" height="18.6"/><rect x="1616.60" y="1164.90" width="18.6" height="18.6"/><rect x="1642.14" y="1160.80" width="18.6" height="18.6"/><rect x="1667.68" y="1154.90" width="18.6" height="18.6"/><rect x="1693.22" y="1147.40" width="18.6" height="18.6"/><rect x="1718.77" y="1136.90" width="18.6" height="18.6"/><rect x="1744.31" y="1122.70" width="18.6" height="18.6"/><rect x="1769.85" y="1104.70" width="18.6" height="18.6"/><rect x="1795.39" y="1079.70" width="18.6" height="18.6"/><rect x="1820.93" y="1051.50" width="18.6" height="18.6"/><rect x="1846.47" y="1016.00" width="18.6" height="18.6"/><rect x="1872.01" y="972.00" width="18.6" height="18.6"/><rect x="1897.56" y="925.60" width="18.6" height="18.6"/><rect x="1923.10" y="873.50" width="18.6" height="18.6"/><rect x="1948.64" y="814.60" width="18.6" height="18.6"/><rect x="1974.18" y="750.70" width="18.6" height="18.6"/><rect x="1999.72" y="681.10" width="18.6" height="18.6"/><rect x="2025.26" y="612.20" width="18.6" height="18.6"/><rect x="2050.81" y="544.30" width="18.6" height="18.6"/><rect x="2076.35" y="479.60" width="18.6" height="18.6"/><rect x="2101.89" y="420.90" width="18.6" height="18.6"/></g>
<path d="M272.6,1441.3 C281.1,1439.9 289.6,1438.7 298.1,1437.2 C306.7,1435.7 315.2,1434.5 323.7,1432.0 C332.2,1429.5 340.7,1423.9 349.2,1418.9 C357.7,1413.9 366.3,1408.1 374.8,1401.6 C383.3,1395.1 391.8,1387.5 400.3,1379.6 C408.8,1371.7 417.3,1364.1 425.8,1354.0 C434.4,1343.9 442.9,1328.7 451.4,1316.5 C459.9,1304.3 468.4,1290.6 476.9,1280.6 C485.4,1270.6 494.0,1259.1 502.5,1254.7 C511.0,1250.3 519.5,1246.9 528.0,1245.8 C536.5,1244.7 545.0,1243.8 553.6,1243.8 C562.1,1243.8 570.6,1243.8 579.1,1243.8 C587.6,1243.8 596.1,1242.3 604.6,1242.0 C613.2,1241.7 621.7,1241.7 630.2,1241.5 C638.7,1241.3 647.2,1240.5 655.7,1240.5 C664.2,1240.5 672.8,1241.0 681.3,1241.0 C689.8,1241.0 698.3,1241.0 706.8,1241.0 C715.3,1241.0 723.8,1240.3 732.3,1240.0 C740.9,1239.7 749.4,1239.1 757.9,1239.1 C766.4,1239.1 774.9,1239.1 783.4,1239.1 C791.9,1239.1 800.5,1238.5 809.0,1238.2 C817.5,1237.9 826.0,1237.7 834.5,1237.3 C843.0,1236.9 851.5,1235.6 860.1,1235.4 C868.6,1235.2 877.1,1235.2 885.6,1235.0 C894.1,1234.8 902.6,1234.4 911.1,1234.1 C919.7,1233.8 928.2,1233.3 936.7,1233.0 C945.2,1232.7 953.7,1232.4 962.2,1232.1 C970.7,1231.8 979.2,1231.6 987.8,1231.1 C996.3,1230.6 1004.8,1228.8 1013.3,1228.0 C1021.8,1227.2 1030.3,1226.5 1038.8,1225.9 C1047.4,1225.3 1055.9,1224.9 1064.4,1224.5 C1072.9,1224.1 1081.4,1223.8 1089.9,1223.5 C1098.4,1223.2 1107.0,1223.0 1115.5,1222.6 C1124.0,1222.2 1132.5,1220.7 1141.0,1220.7 C1149.5,1220.7 1158.0,1220.7 1166.6,1220.7 C1175.1,1220.7 1183.6,1219.2 1192.1,1218.3 C1200.6,1217.4 1209.1,1215.7 1217.6,1214.8 C1226.1,1213.9 1234.7,1213.4 1243.2,1212.7 C1251.7,1212.0 1260.2,1211.0 1268.7,1210.5 C1277.2,1210.0 1285.7,1209.8 1294.3,1209.2 C1302.8,1208.6 1311.3,1206.9 1319.8,1206.4 C1328.3,1205.9 1336.8,1205.7 1345.3,1205.3 C1353.9,1204.9 1362.4,1204.3 1370.9,1203.6 C1379.4,1202.9 1387.9,1201.2 1396.4,1200.6 C1404.9,1200.0 1413.5,1199.8 1422.0,1199.2 C1430.5,1198.6 1439.0,1197.6 1447.5,1196.8 C1456.0,1196.0 1464.5,1195.3 1473.1,1194.6 C1481.6,1193.9 1490.1,1193.0 1498.6,1192.3 C1507.1,1191.6 1515.6,1191.3 1524.1,1190.6 C1532.6,1189.9 1541.2,1188.7 1549.7,1187.9 C1558.2,1187.1 1566.7,1186.5 1575.2,1185.6 C1583.7,1184.7 1592.2,1183.3 1600.8,1182.6 C1609.3,1181.9 1617.8,1181.5 1626.3,1180.9 C1634.8,1180.3 1643.3,1179.8 1651.8,1179.1 C1660.4,1178.3 1668.9,1176.8 1677.4,1176.1 C1685.9,1175.4 1694.4,1175.1 1702.9,1174.4 C1711.4,1173.7 1720.0,1172.9 1728.5,1172.1 C1737.0,1171.3 1745.5,1170.3 1754.0,1169.6 C1762.5,1168.9 1771.0,1168.5 1779.5,1167.8 C1788.1,1167.1 1796.6,1165.8 1805.1,1164.9 C1813.6,1164.0 1822.1,1163.1 1830.6,1162.5 C1839.1,1161.9 1847.7,1161.7 1856.2,1160.9 C1864.7,1160.1 1873.2,1158.3 1881.7,1157.1 C1890.2,1155.9 1898.7,1155.0 1907.3,1153.6 C1915.8,1152.2 1924.3,1150.1 1932.8,1147.9 C1941.3,1145.7 1949.8,1143.0 1958.3,1140.2 C1966.9,1137.4 1975.4,1133.7 1983.9,1131.0 C1992.4,1128.3 2000.9,1127.5 2009.4,1124.0 C2017.9,1120.5 2026.4,1110.5 2035.0,1103.2 C2043.5,1095.9 2052.0,1085.8 2060.5,1079.8 C2069.0,1073.8 2077.5,1071.5 2086.0,1065.0 C2094.6,1058.5 2103.1,1046.1 2111.6,1036.6" fill="none" stroke="#B177DE" stroke-width="7.8" stroke-linejoin="round" stroke-linecap="round"/>
<g fill="#B177DE"><rect x="262.90" y="1432.00" width="18.6" height="18.6"/><rect x="288.44" y="1427.90" width="18.6" height="18.6"/><rect x="313.98" y="1422.70" width="18.6" height="18.6"/><rect x="339.52" y="1409.60" width="18.6" height="18.6"/><rect x="365.07" y="1392.30" width="18.6" height="18.6"/><rect x="390.61" y="1370.30" width="18.6" height="18.6"/><rect x="416.15" y="1344.70" width="18.6" height="18.6"/><rect x="441.69" y="1307.20" width="18.6" height="18.6"/><rect x="467.23" y="1271.30" width="18.6" height="18.6"/><rect x="492.77" y="1245.40" width="18.6" height="18.6"/><rect x="518.31" y="1236.50" width="18.6" height="18.6"/><rect x="543.86" y="1234.50" width="18.6" height="18.6"/><rect x="569.40" y="1234.50" width="18.6" height="18.6"/><rect x="594.94" y="1232.70" width="18.6" height="18.6"/><rect x="620.48" y="1232.20" width="18.6" height="18.6"/><rect x="646.02" y="1231.20" width="18.6" height="18.6"/><rect x="671.56" y="1231.70" width="18.6" height="18.6"/><rect x="697.11" y="1231.70" width="18.6" height="18.6"/><rect x="722.65" y="1230.70" width="18.6" height="18.6"/><rect x="748.19" y="1229.80" width="18.6" height="18.6"/><rect x="773.73" y="1229.80" width="18.6" height="18.6"/><rect x="799.27" y="1228.90" width="18.6" height="18.6"/><rect x="824.81" y="1228.00" width="18.6" height="18.6"/><rect x="850.35" y="1226.10" width="18.6" height="18.6"/><rect x="875.90" y="1225.70" width="18.6" height="18.6"/><rect x="901.44" y="1224.80" width="18.6" height="18.6"/><rect x="926.98" y="1223.70" width="18.6" height="18.6"/><rect x="952.52" y="1222.80" width="18.6" height="18.6"/><rect x="978.06" y="1221.80" width="18.6" height="18.6"/><rect x="1003.60" y="1218.70" width="18.6" height="18.6"/><rect x="1029.14" y="1216.60" width="18.6" height="18.6"/><rect x="1054.69" y="1215.20" width="18.6" height="18.6"/><rect x="1080.23" y="1214.20" width="18.6" height="18.6"/><rect x="1105.77" y="1213.30" width="18.6" height="18.6"/><rect x="1131.31" y="1211.40" width="18.6" height="18.6"/><rect x="1156.85" y="1211.40" width="18.6" height="18.6"/><rect x="1182.39" y="1209.00" width="18.6" height="18.6"/><rect x="1207.94" y="1205.50" width="18.6" height="18.6"/><rect x="1233.48" y="1203.40" width="18.6" height="18.6"/><rect x="1259.02" y="1201.20" width="18.6" height="18.6"/><rect x="1284.56" y="1199.90" width="18.6" height="18.6"/><rect x="1310.10" y="1197.10" width="18.6" height="18.6"/><rect x="1335.64" y="1196.00" width="18.6" height="18.6"/><rect x="1361.18" y="1194.30" width="18.6" height="18.6"/><rect x="1386.73" y="1191.30" width="18.6" height="18.6"/><rect x="1412.27" y="1189.90" width="18.6" height="18.6"/><rect x="1437.81" y="1187.50" width="18.6" height="18.6"/><rect x="1463.35" y="1185.30" width="18.6" height="18.6"/><rect x="1488.89" y="1183.00" width="18.6" height="18.6"/><rect x="1514.43" y="1181.30" width="18.6" height="18.6"/><rect x="1539.98" y="1178.60" width="18.6" height="18.6"/><rect x="1565.52" y="1176.30" width="18.6" height="18.6"/><rect x="1591.06" y="1173.30" width="18.6" height="18.6"/><rect x="1616.60" y="1171.60" width="18.6" height="18.6"/><rect x="1642.14" y="1169.80" width="18.6" height="18.6"/><rect x="1667.68" y="1166.80" width="18.6" height="18.6"/><rect x="1693.22" y="1165.10" width="18.6" height="18.6"/><rect x="1718.77" y="1162.80" width="18.6" height="18.6"/><rect x="1744.31" y="1160.30" width="18.6" height="18.6"/><rect x="1769.85" y="1158.50" width="18.6" height="18.6"/><rect x="1795.39" y="1155.60" width="18.6" height="18.6"/><rect x="1820.93" y="1153.20" width="18.6" height="18.6"/><rect x="1846.47" y="1151.60" width="18.6" height="18.6"/><rect x="1872.01" y="1147.80" width="18.6" height="18.6"/><rect x="1897.56" y="1144.30" width="18.6" height="18.6"/><rect x="1923.10" y="1138.60" width="18.6" height="18.6"/><rect x="1948.64" y="1130.90" width="18.6" height="18.6"/><rect x="1974.18" y="1121.70" width="18.6" height="18.6"/><rect x="1999.72" y="1114.70" width="18.6" height="18.6"/><rect x="2025.26" y="1093.90" width="18.6" height="18.6"/><rect x="2050.81" y="1070.50" width="18.6" height="18.6"/><rect x="2076.35" y="1055.70" width="18.6" height="18.6"/><rect x="2101.89" y="1027.30" width="18.6" height="18.6"/></g>
<path d="M272.6,1458.8 C281.1,1458.5 289.6,1458.3 298.1,1457.9 C306.7,1457.5 315.2,1456.8 323.7,1456.0 C332.2,1455.2 340.7,1454.5 349.2,1452.8 C357.7,1451.1 366.3,1445.3 374.8,1441.5 C383.3,1437.7 391.8,1436.2 400.3,1429.8 C408.8,1423.4 417.3,1380.1 425.8,1375.6 C434.4,1371.1 442.9,1370.4 451.4,1367.9 C459.9,1365.4 468.4,1363.3 476.9,1360.3 C485.4,1357.3 494.0,1353.8 502.5,1349.7 C511.0,1345.6 519.5,1340.2 528.0,1335.0 C536.5,1329.8 545.0,1323.9 553.6,1318.6 C562.1,1313.3 570.6,1310.3 579.1,1303.0 C587.6,1295.7 596.1,1272.0 604.6,1266.4 C613.2,1260.8 621.7,1259.6 630.2,1255.5 C638.7,1251.4 647.2,1244.9 655.7,1241.7 C664.2,1238.5 672.8,1235.8 681.3,1234.3 C689.8,1232.8 698.3,1231.6 706.8,1231.1 C715.3,1230.6 723.8,1230.5 732.3,1230.1 C740.9,1229.7 749.4,1228.5 757.9,1228.5 C766.4,1228.5 774.9,1228.5 783.4,1228.5 C791.9,1228.5 800.5,1228.2 809.0,1228.1 C817.5,1228.0 826.0,1227.7 834.5,1227.7 C843.0,1227.7 851.5,1227.7 860.1,1227.7 C868.6,1227.7 877.1,1227.7 885.6,1227.7 C894.1,1227.7 902.6,1227.7 911.1,1227.7 C919.7,1227.7 928.2,1227.7 936.7,1227.7 C945.2,1227.7 953.7,1227.7 962.2,1227.7 C970.7,1227.7 979.2,1227.5 987.8,1227.5 C996.3,1227.5 1004.8,1227.5 1013.3,1227.5 C1021.8,1227.5 1030.3,1227.0 1038.8,1226.8 C1047.4,1226.6 1055.9,1226.2 1064.4,1226.0 C1072.9,1225.8 1081.4,1225.7 1089.9,1225.6 C1098.4,1225.5 1107.0,1225.5 1115.5,1225.4 C1124.0,1225.3 1132.5,1225.2 1141.0,1225.2 C1149.5,1225.2 1158.0,1225.2 1166.6,1225.2 C1175.1,1225.2 1183.6,1225.2 1192.1,1225.2 C1200.6,1225.2 1209.1,1225.2 1217.6,1225.2 C1226.1,1225.2 1234.7,1224.4 1243.2,1224.4 C1251.7,1224.4 1260.2,1224.4 1268.7,1224.4 C1277.2,1224.4 1285.7,1224.4 1294.3,1224.4 C1302.8,1224.4 1311.3,1224.1 1319.8,1224.1 C1328.3,1224.1 1336.8,1224.1 1345.3,1224.1 C1353.9,1224.1 1362.4,1223.5 1370.9,1223.4 C1379.4,1223.3 1387.9,1223.3 1396.4,1223.3 C1404.9,1223.2 1413.5,1223.0 1422.0,1223.0 C1430.5,1223.0 1439.0,1223.0 1447.5,1222.9 C1456.0,1222.8 1464.5,1222.1 1473.1,1221.8 C1481.6,1221.5 1490.1,1221.4 1498.6,1221.1 C1507.1,1220.8 1515.6,1220.5 1524.1,1220.2 C1532.6,1219.9 1541.2,1219.6 1549.7,1219.4 C1558.2,1219.2 1566.7,1219.1 1575.2,1218.9 C1583.7,1218.7 1592.2,1218.3 1600.8,1217.9 C1609.3,1217.5 1617.8,1216.9 1626.3,1216.5 C1634.8,1216.1 1643.3,1215.7 1651.8,1215.4 C1660.4,1215.1 1668.9,1214.9 1677.4,1214.5 C1685.9,1214.1 1694.4,1212.8 1702.9,1212.0 C1711.4,1211.2 1720.0,1210.7 1728.5,1209.8 C1737.0,1208.9 1745.5,1207.8 1754.0,1206.7 C1762.5,1205.6 1771.0,1204.3 1779.5,1203.2 C1788.1,1202.1 1796.6,1201.2 1805.1,1199.9 C1813.6,1198.6 1822.1,1196.8 1830.6,1195.0 C1839.1,1193.2 1847.7,1191.3 1856.2,1189.3 C1864.7,1187.3 1873.2,1185.3 1881.7,1182.8 C1890.2,1180.3 1898.7,1177.0 1907.3,1174.2 C1915.8,1171.4 1924.3,1168.5 1932.8,1165.7 C1941.3,1162.9 1949.8,1160.5 1958.3,1157.6 C1966.9,1154.7 1975.4,1151.3 1983.9,1147.9 C1992.4,1144.5 2000.9,1140.9 2009.4,1137.0 C2017.9,1133.1 2026.4,1128.4 2035.0,1124.3 C2043.5,1120.2 2052.0,1116.3 2060.5,1112.1 C2069.0,1107.9 2077.5,1103.4 2086.0,1099.1 C2094.6,1094.8 2103.1,1090.6 2111.6,1086.4" fill="none" stroke="#CC9900" stroke-width="7.8" stroke-linejoin="round" stroke-linecap="round"/>
<g fill="#CC9900"><rect x="262.90" y="1449.50" width="18.6" height="18.6"/><rect x="288.44" y="1448.60" width="18.6" height="18.6"/><rect x="313.98" y="1446.70" width="18.6" height="18.6"/><rect x="339.52" y="1443.50" width="18.6" height="18.6"/><rect x="365.07" y="1432.20" width="18.6" height="18.6"/><rect x="390.61" y="1420.50" width="18.6" height="18.6"/><rect x="416.15" y="1366.30" width="18.6" height="18.6"/><rect x="441.69" y="1358.60" width="18.6" height="18.6"/><rect x="467.23" y="1351.00" width="18.6" height="18.6"/><rect x="492.77" y="1340.40" width="18.6" height="18.6"/><rect x="518.31" y="1325.70" width="18.6" height="18.6"/><rect x="543.86" y="1309.30" width="18.6" height="18.6"/><rect x="569.40" y="1293.70" width="18.6" height="18.6"/><rect x="594.94" y="1257.10" width="18.6" height="18.6"/><rect x="620.48" y="1246.20" width="18.6" height="18.6"/><rect x="646.02" y="1232.40" width="18.6" height="18.6"/><rect x="671.56" y="1225.00" width="18.6" height="18.6"/><rect x="697.11" y="1221.80" width="18.6" height="18.6"/><rect x="722.65" y="1220.80" width="18.6" height="18.6"/><rect x="748.19" y="1219.20" width="18.6" height="18.6"/><rect x="773.73" y="1219.20" width="18.6" height="18.6"/><rect x="799.27" y="1218.80" width="18.6" height="18.6"/><rect x="824.81" y="1218.40" width="18.6" height="18.6"/><rect x="850.35" y="1218.40" width="18.6" height="18.6"/><rect x="875.90" y="1218.40" width="18.6" height="18.6"/><rect x="901.44" y="1218.40" width="18.6" height="18.6"/><rect x="926.98" y="1218.40" width="18.6" height="18.6"/><rect x="952.52" y="1218.40" width="18.6" height="18.6"/><rect x="978.06" y="1218.20" width="18.6" height="18.6"/><rect x="1003.60" y="1218.20" width="18.6" height="18.6"/><rect x="1029.14" y="1217.50" width="18.6" height="18.6"/><rect x="1054.69" y="1216.70" width="18.6" height="18.6"/><rect x="1080.23" y="1216.30" width="18.6" height="18.6"/><rect x="1105.77" y="1216.10" width="18.6" height="18.6"/><rect x="1131.31" y="1215.90" width="18.6" height="18.6"/><rect x="1156.85" y="1215.90" width="18.6" height="18.6"/><rect x="1182.39" y="1215.90" width="18.6" height="18.6"/><rect x="1207.94" y="1215.90" width="18.6" height="18.6"/><rect x="1233.48" y="1215.10" width="18.6" height="18.6"/><rect x="1259.02" y="1215.10" width="18.6" height="18.6"/><rect x="1284.56" y="1215.10" width="18.6" height="18.6"/><rect x="1310.10" y="1214.80" width="18.6" height="18.6"/><rect x="1335.64" y="1214.80" width="18.6" height="18.6"/><rect x="1361.18" y="1214.10" width="18.6" height="18.6"/><rect x="1386.73" y="1214.00" width="18.6" height="18.6"/><rect x="1412.27" y="1213.70" width="18.6" height="18.6"/><rect x="1437.81" y="1213.60" width="18.6" height="18.6"/><rect x="1463.35" y="1212.50" width="18.6" height="18.6"/><rect x="1488.89" y="1211.80" width="18.6" height="18.6"/><rect x="1514.43" y="1210.90" width="18.6" height="18.6"/><rect x="1539.98" y="1210.10" width="18.6" height="18.6"/><rect x="1565.52" y="1209.60" width="18.6" height="18.6"/><rect x="1591.06" y="1208.60" width="18.6" height="18.6"/><rect x="1616.60" y="1207.20" width="18.6" height="18.6"/><rect x="1642.14" y="1206.10" width="18.6" height="18.6"/><rect x="1667.68" y="1205.20" width="18.6" height="18.6"/><rect x="1693.22" y="1202.70" width="18.6" height="18.6"/><rect x="1718.77" y="1200.50" width="18.6" height="18.6"/><rect x="1744.31" y="1197.40" width="18.6" height="18.6"/><rect x="1769.85" y="1193.90" width="18.6" height="18.6"/><rect x="1795.39" y="1190.60" width="18.6" height="18.6"/><rect x="1820.93" y="1185.70" width="18.6" height="18.6"/><rect x="1846.47" y="1180.00" width="18.6" height="18.6"/><rect x="1872.01" y="1173.50" width="18.6" height="18.6"/><rect x="1897.56" y="1164.90" width="18.6" height="18.6"/><rect x="1923.10" y="1156.40" width="18.6" height="18.6"/><rect x="1948.64" y="1148.30" width="18.6" height="18.6"/><rect x="1974.18" y="1138.60" width="18.6" height="18.6"/><rect x="1999.72" y="1127.70" width="18.6" height="18.6"/><rect x="2025.26" y="1115.00" width="18.6" height="18.6"/><rect x="2050.81" y="1102.80" width="18.6" height="18.6"/><rect x="2076.35" y="1089.80" width="18.6" height="18.6"/><rect x="2101.89" y="1077.10" width="18.6" height="18.6"/></g>
</g>
<rect x="360.75" y="82.75" width="415.75" height="738.75" fill="#fff" stroke="#000" stroke-width="3.1"/>
<line x1="372.9" y1="149.90" x2="593.9" y2="149.90" stroke="#515151" stroke-width="7.8" stroke-linecap="round"/>
<rect x="474" y="140.90" width="18" height="18" fill="#515151"/>
<text transform="translate(617.8,182.00) scale(0.975,1)" font-size="99.5">C-0</text>
<line x1="372.9" y1="270.64" x2="593.9" y2="270.64" stroke="#F14040" stroke-width="7.8" stroke-linecap="round"/>
<rect x="474" y="261.64" width="18" height="18" fill="#F14040"/>
<text transform="translate(617.8,302.74) scale(0.975,1)" font-size="99.5">C-1</text>
<line x1="372.9" y1="391.38" x2="593.9" y2="391.38" stroke="#1A6FDF" stroke-width="7.8" stroke-linecap="round"/>
<rect x="474" y="382.38" width="18" height="18" fill="#1A6FDF"/>
<text transform="translate(617.8,423.48) scale(0.975,1)" font-size="99.5">C-2</text>
<line x1="372.9" y1="512.12" x2="593.9" y2="512.12" stroke="#37AD6B" stroke-width="7.8" stroke-linecap="round"/>
<rect x="474" y="503.12" width="18" height="18" fill="#37AD6B"/>
<text transform="translate(617.8,544.22) scale(0.975,1)" font-size="99.5">C-3</text>
<line x1="372.9" y1="632.86" x2="593.9" y2="632.86" stroke="#B177DE" stroke-width="7.8" stroke-linecap="round"/>
<rect x="474" y="623.86" width="18" height="18" fill="#B177DE"/>
<text transform="translate(617.8,664.96) scale(0.975,1)" font-size="99.5">C-4</text>
<line x1="372.9" y1="753.60" x2="593.9" y2="753.60" stroke="#CC9900" stroke-width="7.8" stroke-linecap="round"/>
<rect x="474" y="744.60" width="18" height="18" fill="#CC9900"/>
<text transform="translate(617.8,785.70) scale(0.975,1)" font-size="99.5">C-5</text>
</svg></body></html>
